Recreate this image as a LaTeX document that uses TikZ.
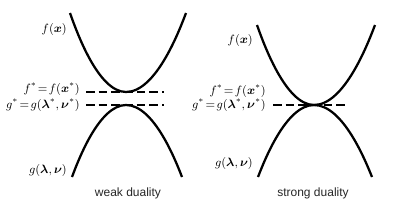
\documentclass[tikz,border=0pt]{standalone}
\usepackage{amsmath}
\usepackage{fontspec}
\newfontfamily\capfont{Liberation Sans}
\begin{document}
\begin{tikzpicture}[x=0.75pt,y=-0.75pt,
  curve/.style={line width=1.7pt,black},
  dash line/.style={line width=1.5pt,dash pattern=on 6.5pt off 3pt},
  lbl/.style={anchor=east,inner sep=0pt,font=\small},
  caption/.style={font=\capfont\fontsize{9}{11}\selectfont,text=black!85}]
\useasboundingbox (0,0) rectangle (402,208);
% weak duality
\draw[curve] (70,13) parabola bend (126,92) (186,13);
\draw[curve] (72,177) parabola bend (126,105) (182,177);
\coordinate (w1a) at (86,92); \coordinate (w1b) at (164,92);
\coordinate (w2a) at (86,105); \coordinate (w2b) at (164,105);
\draw[dash line] (w1a) -- (w1b);
\draw[dash line] (w2a) -- (w2b);
\node[lbl] (wf) at (67,29) {$f(\boldsymbol{x})$};
\node[lbl] (wfs) at (80,89) {$f^*\!=\!f(\boldsymbol{x}^*)$};
\node[lbl] (wgs) at (80,105) {$g^*\!=\!g(\boldsymbol{\lambda}^*,\boldsymbol{\nu}^*)$};
\node[lbl] (wg) at (67,170) {$g(\boldsymbol{\lambda},\boldsymbol{\nu})$};
\node[caption] (wc) at (128,193) {weak duality};
% strong duality
\draw[curve] (257,25) parabola bend (314,105) (375,25);
\draw[curve] (258,177) parabola bend (314,105) (372,177);
\coordinate (s1a) at (273,105); \coordinate (s1b) at (349,105);
\draw[dash line] (s1a) -- (s1b);
\node[lbl] (sf) at (253,40) {$f(\boldsymbol{x})$};
\node[lbl] (sfs) at (266,91) {$f^*\!=\!f(\boldsymbol{x}^*)$};
\node[lbl] (sgs) at (266,105) {$g^*\!=\!g(\boldsymbol{\lambda}^*,\boldsymbol{\nu}^*)$};
\node[lbl] (sg) at (253,163) {$g(\boldsymbol{\lambda},\boldsymbol{\nu})$};
\node[caption] (sc) at (313,193) {strong duality};
\end{tikzpicture}
\end{document}
